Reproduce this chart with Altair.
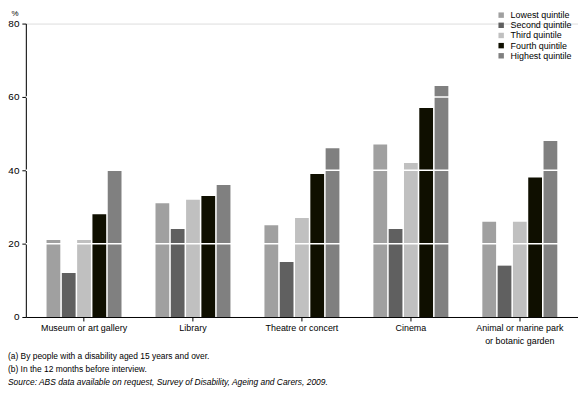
import altair as alt
import pandas as pd

categories = ["Museum or art gallery", "Library", "Theatre or concert", "Cinema",
              "Animal or marine park or botanic garden"]
quintiles = ["Lowest quintile", "Second quintile", "Third quintile",
             "Fourth quintile", "Highest quintile"]
lowest = [21, 31, 25, 47, 26]
second = [12, 24, 15, 24, 14]
third = [21, 32, 27, 42, 26]
fourth = [28, 33, 39, 57, 38]
highest = [40, 36, 46, 63, 48]
colors = ["#a0a0a0", "#606060", "#c0c0c0", "#0f0f00", "#808080"]
y_ticks = [0, 20, 40, 60, 80]
grid_vals = [20, 40, 60]
footnotes = ["(a) By people with a disability aged 15 years and over.",
             "(b) In the 12 months before interview."]
source = "Source: ABS data available on request, Survey of Disability, Ageing and Carers, 2009."

rows = []
for q, vals in zip(quintiles, [lowest, second, third, fourth, highest]):
    for c, v in zip(categories, vals):
        rows.append({"category": c, "quintile": q, "value": v})
df = pd.DataFrame(rows)

FONT = "Liberation Sans, Arial, sans-serif"

xscale = alt.Scale(domain=categories, paddingInner=0.312, paddingOuter=0.19)
yscale = alt.Scale(domain=[0, 80], nice=False)

bars = alt.Chart(df).mark_bar().encode(
    x=alt.X("category:N", scale=xscale, sort=categories,
            axis=alt.Axis(title=None, labelAngle=0, domainColor="black", tickColor="black",
                          tickSize=4, labelFontSize=9, labelFont=FONT, labelColor="black",
                          labelPadding=3, labelLineHeight=13,
                          labelExpr="datum.value == 'Animal or marine park or botanic garden' ? ['Animal or marine park', 'or botanic garden'] : datum.label")),
    xOffset=alt.XOffset("quintile:N", sort=quintiles,
                        scale=alt.Scale(paddingInner=0.1, paddingOuter=0)),
    y=alt.Y("value:Q", scale=yscale,
            axis=alt.Axis(title=None, values=y_ticks, grid=False, domainColor="black",
                          tickColor="black", tickSize=4, labelFontSize=10, labelFont=FONT,
                          labelColor="black", labelPadding=3)),
    color=alt.Color("quintile:N", sort=quintiles,
                    scale=alt.Scale(domain=quintiles, range=colors),
                    legend=alt.Legend(title=None, orient="none", legendX=475, legendY=-13,
                                      symbolType="square", symbolSize=30, symbolStrokeWidth=0,
                                      labelFontSize=9, labelFont=FONT, labelColor="black",
                                      rowPadding=0.25, labelOffset=5)),
)

grid = alt.Chart(pd.DataFrame({"g": grid_vals})).mark_rule(color="white", strokeWidth=1.5).encode(
    y=alt.Y("g:Q", scale=yscale)
)

pct = alt.Chart(pd.DataFrame({"t": ["%"]})).mark_text(
    align="center", baseline="top", fontSize=8, font=FONT, color="black"
).encode(text="t:N", x=alt.value(-11), y=alt.value(-14))

notes_df = pd.DataFrame({"t": footnotes, "yy": [335, 348]})
notes = alt.Chart(notes_df).mark_text(
    align="left", baseline="middle", fontSize=8.5, font=FONT, color="black"
).encode(text="t:N", x=alt.value(-18), y=alt.Y("yy:Q", scale=None))

src = alt.Chart(pd.DataFrame({"t": [source]})).mark_text(
    align="left", baseline="middle", fontSize=8.5, font=FONT, fontStyle="italic", color="black"
).encode(text="t:N", x=alt.value(-18), y=alt.value(362))

chart = alt.layer(bars, grid, pct, notes, src).properties(
    width=557, height=296,
    autosize=alt.AutoSizeParams(type="none"),
    padding={"left": 18, "top": 14, "right": 0, "bottom": 80},
).configure_view(stroke=None).configure(background="white")

chart.save("out.html", embed_options={"renderer": "svg", "actions": False})
